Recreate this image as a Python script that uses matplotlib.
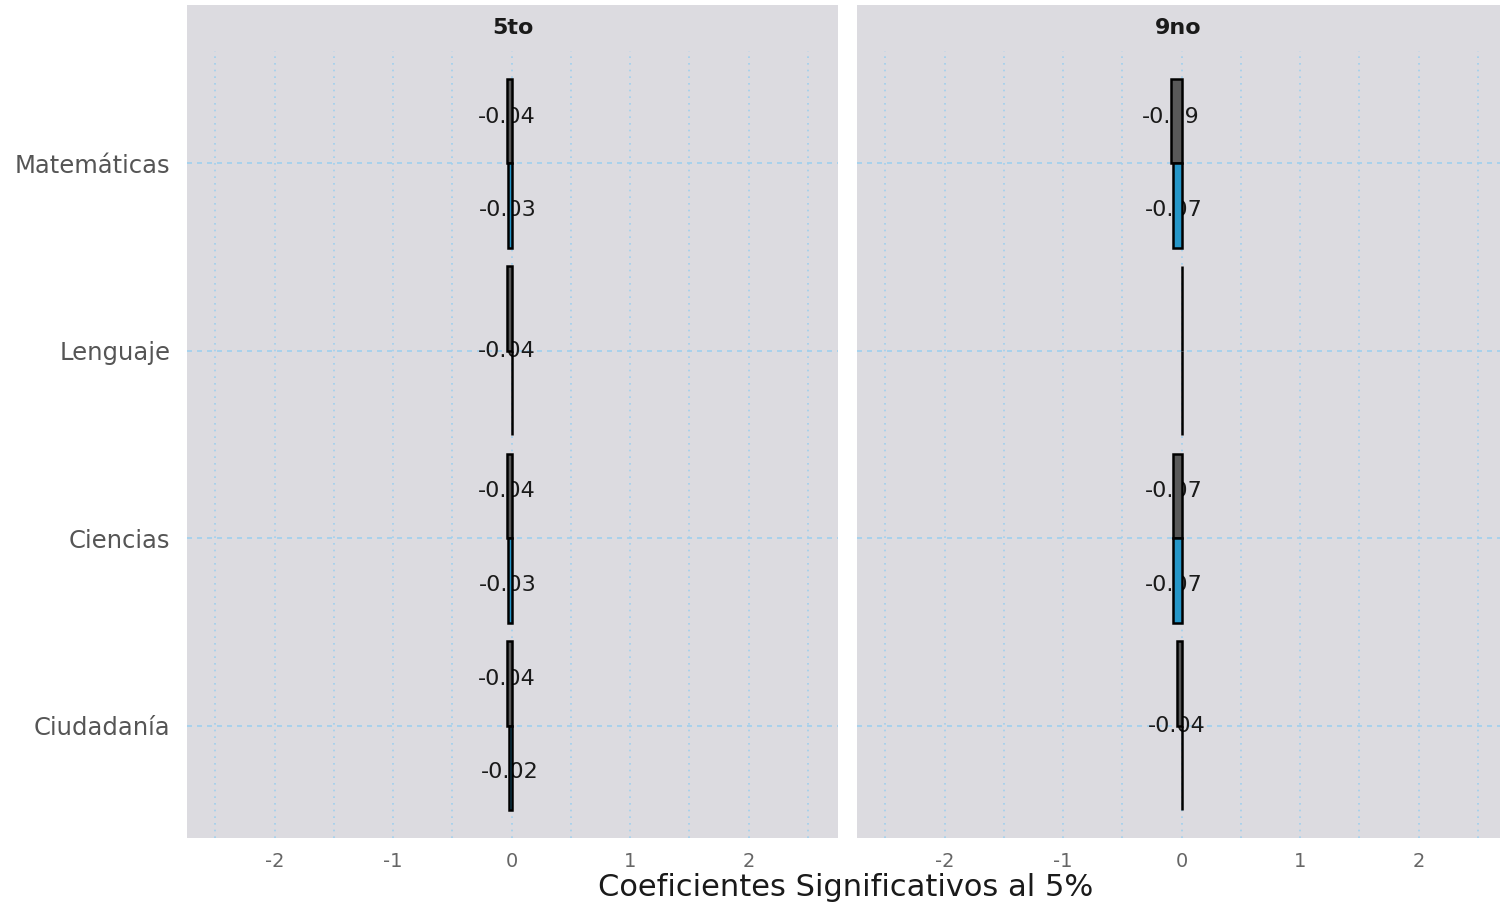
import matplotlib
matplotlib.use("Agg")
import matplotlib.pyplot as plt
from matplotlib.patches import Rectangle

# ---- data ----
categories = ["Matemáticas", "Lenguaje", "Ciencias", "Ciudadanía"]
panels = ["5to", "9no"]
# upper (gray) and lower (blue) bar of each category, per panel
upper_5to = [-0.04, -0.04, -0.04, -0.04]
lower_5to = [-0.03, 0.0, -0.03, -0.02]
upper_9no = [-0.09, 0.0, -0.07, -0.04]
lower_9no = [-0.07, 0.0, -0.07, 0.0]
x_ticks = [-2, -1, 0, 1, 2]
x_title = "Coeficientes Significativos al 5%"

upper_color = "#595959"
lower_color = "#2596c8"
panel_bg = "#dcdbe0"
grid_color = "#9fcfee"

plt.rcParams['font.family'] = ['DejaVu Sans']

W, H = 1501, 906
fig = plt.figure(figsize=(W / 100, H / 100), dpi=100)

def fx(px):
    return px / W

def fy(py):
    return 1 - py / H

ax_bounds = [(187, 838), (857, 1500)]
top_px, bot_px, strip_top = 51, 838, 5
series = [(upper_5to, lower_5to), (upper_9no, lower_9no)]

for i, (name, (x0, x1), (upper, lower)) in enumerate(zip(panels, ax_bounds, series)):
    ax = fig.add_axes([fx(x0), fy(bot_px), fx(x1 - x0), (bot_px - top_px) / H])
    ax.set_facecolor(panel_bg)
    for s in ax.spines.values():
        s.set_visible(False)
    n = len(categories)
    ypos = list(range(n))
    h = 0.45
    ax.barh([y - h / 2 for y in ypos], upper, height=h, color=upper_color,
            edgecolor="black", linewidth=1.8, zorder=4)
    ax.barh([y + h / 2 for y in ypos], lower, height=h, color=lower_color,
            edgecolor="black", linewidth=1.8, zorder=4)
    # labels for non-zero values (text dodged at +-0.25)
    d = 0.25
    for y, u, l in zip(ypos, upper, lower):
        vals = [(y - d, u), (y + d, l)]
        nz = [(yy, v) for yy, v in vals if v != 0]
        if len(nz) == 1:
            nz = [(y, nz[0][1])]
        for yy, v in nz:
            ax.text(v, yy, f"{v:.2f}", ha="center", va="center",
                    fontsize=16, color="#1a1a1a", zorder=3)
    xmax = (x1 - x0) / 118.5 - 2.74
    ax.set_xlim(-2.74, xmax)
    ax.set_ylim(n - 1 + 0.6, -0.6)
    ax.set_xticks(x_ticks)
    ax.set_xticklabels([str(t) for t in x_ticks])
    ax.set_xticks([-2.5, -1.5, -0.5, 0.5, 1.5, 2.5], minor=True)
    ax.set_yticks(ypos)
    if i == 0:
        ax.set_yticklabels(categories)
    else:
        ax.set_yticklabels([])
    ax.tick_params(axis="both", which="both", length=0)
    ax.tick_params(axis="x", labelsize=14, labelcolor="#666666", pad=10)
    ax.tick_params(axis="y", labelsize=17.5, labelcolor="#555555", pad=12)
    ax.grid(True, axis="x", which="both", linestyle=(0, (1, 3)),
            color=grid_color, linewidth=1.2, zorder=0)
    ax.grid(True, axis="y", which="major", linestyle=(0, (3, 3)),
            color=grid_color, linewidth=1.2, zorder=0)
    ax.set_axisbelow(True)
    # strip
    fig.patches.append(Rectangle((fx(x0), fy(top_px)), fx(x1 - x0), (top_px - strip_top) / H,
                                 transform=fig.transFigure, facecolor=panel_bg,
                                 edgecolor="none", zorder=0))
    fig.text(fx((x0 + x1) / 2), fy(28), name, ha="center", va="center",
             fontsize=16, fontweight="bold", color="#1a1a1a")

fig.text(fx(846), fy(888), x_title, ha="center", va="center", fontsize=22, color="#1a1a1a")

fig.savefig("out.png", dpi=100, facecolor="white")
